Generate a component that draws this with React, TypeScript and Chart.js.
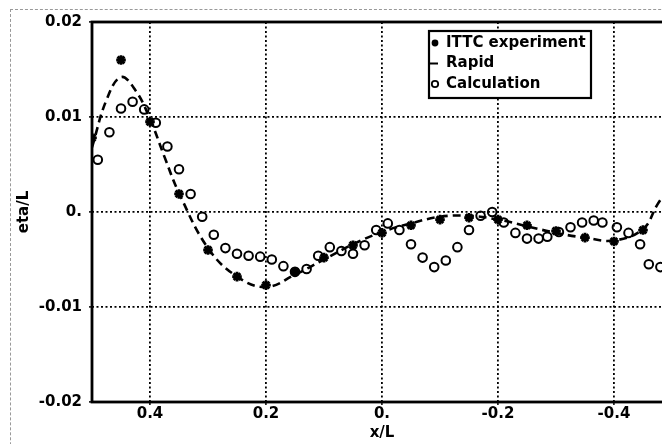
import React, { useEffect, useRef } from 'react';
import { Chart, registerables } from 'chart.js';

Chart.register(...registerables);

// ITTC experiment (stars)
const ittcX = [0.5, 0.45, 0.4, 0.35, 0.3, 0.25, 0.2, 0.15, 0.1, 0.05, 0.0, -0.05, -0.1, -0.15, -0.2, -0.25, -0.3, -0.35, -0.4, -0.45];
const ittcY = [0.0078, 0.016, 0.0095, 0.0019, -0.004, -0.0068, -0.0077, -0.0063, -0.0048, -0.0035, -0.0022, -0.0014, -0.0008, -0.0006, -0.0008, -0.0014, -0.002, -0.0027, -0.0031, -0.0019];

// Rapid (dashed line)
const rapidX = [0.5, 0.475, 0.45, 0.425, 0.4, 0.375, 0.35, 0.3, 0.25, 0.2, 0.15, 0.1, 0.05, 0.0, -0.05, -0.1, -0.15, -0.2, -0.25, -0.3, -0.35, -0.4, -0.45, -0.475, -0.5];
const rapidY = [0.0068, 0.0118, 0.0142, 0.0128, 0.0098, 0.0058, 0.002, -0.0038, -0.0068, -0.0079, -0.0066, -0.005, -0.0034, -0.0021, -0.0012, -0.0005, -0.0004, -0.0008, -0.0015, -0.0022, -0.0027, -0.003, -0.0018, 0.0008, 0.003];

// Calculation (open circles)
const calcX = [0.49, 0.47, 0.45, 0.43, 0.41, 0.39, 0.37, 0.35, 0.33, 0.31, 0.29, 0.27, 0.25, 0.23, 0.21, 0.19, 0.17, 0.15, 0.13, 0.11, 0.09, 0.07, 0.05, 0.03, 0.01, -0.01, -0.03, -0.05, -0.07, -0.09, -0.11, -0.13, -0.15, -0.17, -0.19, -0.21, -0.23, -0.25, -0.27, -0.285, -0.305, -0.325, -0.345, -0.365, -0.38, -0.405, -0.425, -0.445, -0.46, -0.48];
const calcY = [0.0055, 0.0084, 0.0109, 0.0116, 0.0108, 0.0094, 0.0069, 0.0045, 0.0019, -0.0005, -0.0024, -0.0038, -0.0044, -0.0046, -0.0047, -0.005, -0.0057, -0.0063, -0.006, -0.0046, -0.0037, -0.0041, -0.0044, -0.0035, -0.0019, -0.0012, -0.0019, -0.0034, -0.0048, -0.0058, -0.0051, -0.0037, -0.0019, -0.0004, 0.0, -0.0011, -0.0022, -0.0028, -0.0028, -0.0026, -0.0021, -0.0016, -0.0011, -0.0009, -0.0011, -0.0016, -0.0022, -0.0034, -0.0055, -0.0058];

const xTicks = [0.4, 0.2, 0, -0.2, -0.4];
const xTickLabels = ['0.4', '0.2', '0.', '-0.2', '-0.4'];
const yTicks = [0.02, 0.01, 0, -0.01, -0.02];
const yTickLabels = ['0.02', '0.01', '0.', '-0.01', '-0.02'];
const legendLabels = ['ITTC experiment', 'Rapid', 'Calculation'];
const xTitle = 'x/L';
const yTitle = 'eta/L';

const FONT = "'DejaVu Sans', sans-serif";

const framePlugin = {
  id: 'frame',
  beforeDatasetsDraw(chart: any) {
    const { ctx, chartArea } = chart;
    ctx.save();
    ctx.strokeStyle = '#000';
    ctx.lineWidth = 2.8;
    ctx.strokeRect(chartArea.left, chartArea.top, chartArea.right - chartArea.left, chartArea.bottom - chartArea.top);
    ctx.restore();
  },
};

const legendPlugin = {
  id: 'boxLegend',
  afterDraw(chart: any) {
    const { ctx } = chart;
    const bx = 429, by = 31, bw = 162, bh = 67;
    ctx.save();
    ctx.fillStyle = '#fff';
    ctx.fillRect(bx, by, bw, bh);
    ctx.strokeStyle = '#000';
    ctx.lineWidth = 2.2;
    ctx.strokeRect(bx, by, bw, bh);
    ctx.fillStyle = '#000';
    ctx.font = `bold 15px ${FONT}`;
    ctx.textBaseline = 'middle';
    ctx.textAlign = 'left';
    const ys = [43, 63.5, 84];
    legendLabels.forEach((t, i) => ctx.fillText(t, 446, ys[i]));
    // symbols
    ctx.beginPath();
    ctx.arc(435, ys[0], 3.4, 0, Math.PI * 2);
    ctx.fill();
    ctx.lineWidth = 2;
    ctx.beginPath();
    ctx.moveTo(430, ys[1]);
    ctx.lineTo(438, ys[1]);
    ctx.stroke();
    ctx.lineWidth = 1.8;
    ctx.beginPath();
    ctx.arc(435, ys[2], 3.2, 0, Math.PI * 2);
    ctx.stroke();
    ctx.restore();
  },
};

export default function App() {
  const ref = useRef<HTMLCanvasElement | null>(null);
  useEffect(() => {
    document.body.style.margin = '0';
    document.body.style.overflow = 'hidden';
    document.documentElement.style.overflow = 'hidden';
    if (!ref.current) return;
    const toPts = (xs: number[], ys: number[]) => xs.map((x, i) => ({ x, y: ys[i] }));
    const chart = new Chart(ref.current, {
      type: 'scatter',
      data: {
        datasets: [
          {
            label: legendLabels[1],
            data: toPts(rapidX, rapidY),
            showLine: true,
            borderColor: '#000',
            borderWidth: 2.6,
            borderDash: [8, 5],
            pointRadius: 0,
            tension: 0.4,
            fill: false,
          },
          {
            label: legendLabels[0],
            data: toPts(ittcX, ittcY),
            showLine: false,
            pointStyle: 'star',
            pointRadius: 4.8,
            borderColor: '#000',
            backgroundColor: '#000',
            pointBorderWidth: 2.8,
          },
          {
            label: legendLabels[2],
            data: toPts(calcX, calcY),
            showLine: false,
            pointStyle: 'circle',
            pointRadius: 4.3,
            borderColor: '#000',
            backgroundColor: 'rgba(0,0,0,0)',
            pointBorderWidth: 2,
          },
        ],
      },
      options: {
        responsive: false,
        animation: false,
        events: [],
        layout: { padding: { top: 22, right: 18, left: 0, bottom: 0 } },
        plugins: { legend: { display: false }, tooltip: { enabled: false } },
        scales: {
          x: {
            type: 'linear',
            reverse: true,
            min: -0.5,
            max: 0.5,
            afterBuildTicks: (s: any) => { s.ticks = xTicks.map((v) => ({ value: v })); },
            afterFit: (s: any) => { s.height = 42; },
            ticks: {
              color: '#000',
              font: { family: FONT, size: 15, weight: 'bold' },
              padding: 0,
              maxRotation: 0,
              autoSkip: false,
              callback: (v: any) => xTickLabels[xTicks.indexOf(Number(v))] ?? '',
            },
            grid: { color: '#000', lineWidth: 1.8, tickLength: 3, tickColor: '#000', tickWidth: 1.5 },
            border: { display: false, dash: [2, 2.5] },
            title: {
              display: true,
              text: xTitle,
              color: '#000',
              font: { family: FONT, size: 15, weight: 'bold' },
              padding: { top: 0, bottom: 2 },
            },
          },
          y: {
            type: 'linear',
            min: -0.02,
            max: 0.02,
            afterBuildTicks: (s: any) => { s.ticks = yTicks.map((v) => ({ value: v })); },
            afterFit: (s: any) => { s.width = 92; },
            ticks: {
              color: '#000',
              font: { family: FONT, size: 15, weight: 'bold' },
              padding: 7,
              autoSkip: false,
              callback: (v: any) => yTickLabels[yTicks.indexOf(Number(v))] ?? '',
            },
            grid: { color: '#000', lineWidth: 1.8, tickLength: 3, tickColor: '#000', tickWidth: 1.5 },
            border: { display: false, dash: [2, 2.5] },
            title: {
              display: true,
              text: yTitle,
              color: '#000',
              font: { family: FONT, size: 15, weight: 'bold' },
              padding: { top: 15, bottom: 0 },
            },
          },
        },
      },
      plugins: [framePlugin, legendPlugin],
    } as any);
    return () => chart.destroy();
  }, []);

  return (
    <div style={{ position: 'relative', width: 662, height: 444, overflow: 'hidden', background: '#fff' }}>
      <canvas ref={ref} width={690} height={444} style={{ display: 'block', position: 'absolute', left: 0, top: 0 }} />
      <div
        style={{
          position: 'absolute',
          left: 10,
          top: 9,
          width: 700,
          height: 500,
          borderTop: '1px dashed #999',
          borderLeft: '1px dashed #999',
          pointerEvents: 'none',
        }}
      />
    </div>
  );
}
